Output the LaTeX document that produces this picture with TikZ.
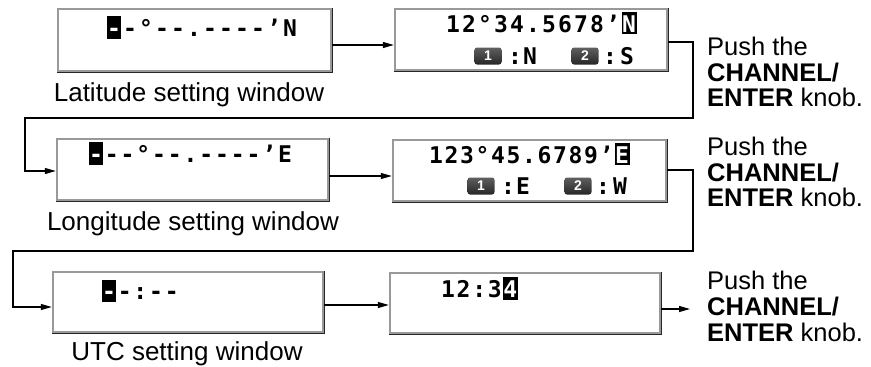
\documentclass[tikz,border=0pt]{standalone}
\usepackage{fontspec}
\setmainfont{Liberation Sans}
\newfontfamily\lcdfont{DejaVu Sans Mono}
\usetikzlibrary{arrows.meta,calc}
\newcommand\Wc[1]{\textcolor{white}{#1}}
\newcommand\lcdrow[5]{\foreach \ch [count=\i from 0] in {#5}{\node[lcdch] (#1-\i) at ({#2+\i*#3},#4) {\ch};}}
\begin{document}
\begin{tikzpicture}[x=1pt,y=-1pt,
  lcd/.style={draw=gray!80, line width=2.4pt, fill=white, inner sep=0pt},
  dark/.style={draw=black!85, line width=1.1pt},
  lcdch/.style={anchor=base, inner sep=0pt, font=\lcdfont\bfseries\fontsize{23}{24}\selectfont},
  inv/.style={fill=black},
  keyicon/.style={rounded corners=2.5pt, top color=gray!75!black, bottom color=black!85, text=white,
     font=\bfseries\fontsize{14}{14}\selectfont, minimum width=27pt, minimum height=17pt, inner sep=0pt},
  arr/.style={-{Triangle[length=11pt,width=6pt]}, line width=1.2pt},
  captxt/.style={anchor=base, inner sep=0pt, font=\fontsize{26}{30}\selectfont},
  push/.style={anchor=base west, inner sep=0pt, font=\fontsize{25.5}{26}\selectfont}]
\useasboundingbox (0,0) rectangle (871,367);
% boxes
\node[lcd, minimum width=273pt, minimum height=62pt] (b1) at (194.5,40) {};
\node[lcd, minimum width=272pt, minimum height=61pt] (b2) at (531,39.5) {};
\node[lcd, minimum width=271pt, minimum height=61pt] (b3) at (192.5,169.5) {};
\node[lcd, minimum width=273pt, minimum height=61pt] (b4) at (529.5,170.5) {};
\node[lcd, minimum width=270pt, minimum height=60pt] (b5) at (188,302) {};
\node[lcd, minimum width=270pt, minimum height=60pt] (b6) at (525,303) {};
\foreach \b in {b1,b2,b3,b4,b5,b6}{\draw[dark] (\b.north east) -- (\b.south east) -- (\b.south west);}
% inverted cells
\fill[inv] (107,16) rectangle (121,39);
\fill[inv] (622,12) rectangle (637,34);
\fill[inv] (89,142) rectangle (103,165);
\fill[inv] (615,143) rectangle (630,165);
\fill[inv] (102,280) rectangle (116,302);
\fill[inv] (503,277) rectangle (518,300);
% LCD text
\lcdrow{r1}{114}{16}{36}{\Wc{-},-,°,-,-,.,-,-,-,-,’,N}
\lcdrow{r2}{453}{16}{32}{1,2,°,3,4,.,5,6,7,8,’,\Wc{N}}
\node[keyicon] (k1) at (488,56) {1};
\node[lcdch] (r2c) at (515,64) {:};
\node[lcdch] (r2n) at (530,64) {N};
\node[keyicon] (k2) at (585,56) {2};
\node[lcdch] (r2d) at (610,64) {:};
\node[lcdch] (r2s) at (627,64) {S};
\lcdrow{r3}{96}{15.75}{162}{\Wc{-},-,-,°,-,-,.,-,-,-,-,’,E}
\lcdrow{r4}{436}{15.5}{163}{1,2,3,°,4,5,.,6,7,8,9,’,\Wc{E}}
\node[keyicon] (k3) at (481,186) {1};
\node[lcdch] (r4c) at (508,194) {:};
\node[lcdch] (r4e) at (523,194) {E};
\node[keyicon] (k4) at (578,186) {2};
\node[lcdch] (r4d) at (603,194) {:};
\node[lcdch] (r4w) at (620,194) {W};
\lcdrow{r5}{109}{15.7}{299}{\Wc{-},-,:,-,-}
\lcdrow{r6}{448}{15.6}{297}{1,2,:,3,\Wc{4}}
% captions
\node[captxt] (cap1) at (189,101) {Latitude setting window};
\node[captxt] (cap2) at (193,230) {Longitude setting window};
\node[captxt] (cap3) at (187,360) {UTC setting window};
% push texts
\node[push] (p1a) at (707,55) {Push the};
\node[push] (p1b) at (707,81) {\bfseries CHANNEL/};
\node[push] (p1c) at (707,106) {\bfseries ENTER\mdseries\ knob.};
\node[push] (p2a) at (707,155) {Push the};
\node[push] (p2b) at (707,181) {\bfseries CHANNEL/};
\node[push] (p2c) at (707,206) {\bfseries ENTER\mdseries\ knob.};
\node[push] (p3a) at (707,289) {Push the};
\node[push] (p3b) at (707,315) {\bfseries CHANNEL/};
\node[push] (p3c) at (707,341) {\bfseries ENTER\mdseries\ knob.};
% connectors
\coordinate (c1a) at (693,118);
\coordinate (c1b) at (25,118);
\coordinate (c2a) at (693,251);
\coordinate (c2b) at (13,251);
\coordinate (out) at (690,309);
\draw[arr] ([yshift=-5pt]b1.east) -- ([yshift=-5pt]b1.east -| b2.west);
\draw[arr] ([yshift=-2.5pt]b2.east) -| (c1a) -- (c1b) |- ([yshift=-1.5pt]b3.west);
\draw[arr] ([yshift=-6.5pt]b3.east) -- ([yshift=-6.5pt]b3.east -| b4.west);
\draw[arr] ([yshift=0.5pt]b4.east) -| (c2a) -- (c2b) |- ([yshift=-5pt]b5.west);
\draw[arr] ([yshift=-3pt]b5.east) -- ([yshift=-3pt]b5.east -| b6.west);
\draw[arr] ([yshift=-6pt]b6.east) -- (out);
\end{tikzpicture}
\end{document}
